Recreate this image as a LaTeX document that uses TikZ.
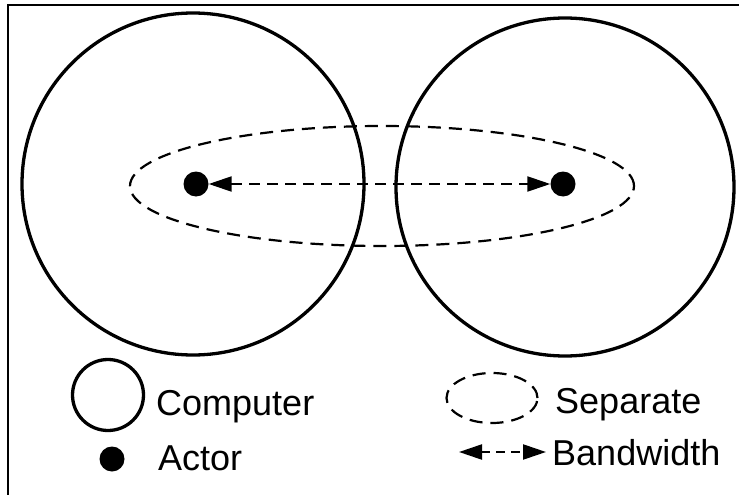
\documentclass[tikz,border=0pt]{standalone}
\usepackage{fontspec}
\setmainfont{Liberation Sans}
\usetikzlibrary{shapes.geometric,arrows.meta}

\tikzset{
  computer/.style={circle, draw, line width=3.3pt, inner sep=0pt},
  actor/.style={circle, fill, inner sep=0pt, minimum size=25pt},
  separate/.style={ellipse, draw, line width=2.2pt, dash pattern=on 13pt off 8pt, inner sep=0pt},
  bandwidth/.style={line width=2.2pt, dash pattern=on 11pt off 7pt,
    {Triangle[length=23pt,width=15pt]}-{Triangle[length=23pt,width=15pt]}},
  legendtext/.style={anchor=base west, inner sep=0pt, font=\fontsize{36}{40}\selectfont},
}

\begin{document}
\begin{tikzpicture}[x=1pt, y=-1pt]
  \useasboundingbox (0,0) rectangle (739,495);
  % frame
  \draw [line width=2.2pt] (8,495) -- (8,5) -- (739,5);

  % two computers
  \node [computer, minimum size=342pt](pcA) at (193,184) {};
  \node [computer, minimum size=338pt](pcB) at (565,187) {};

  % separate region
  \node [separate, minimum width=504pt, minimum height=120pt](sep) at (382,186) {};

  % actors
  \node [actor](actA) at (196,184) {};
  \node [actor](actB) at (563,184) {};
  \draw [bandwidth] (actA) -- (actB);

  % legend
  \node [computer, minimum size=71pt](legPC) at (108,395) {};
  \node [legendtext](txtPC) at (156,415) {Computer};
  \node [actor](legAct) at (112,459) {};
  \node [legendtext](txtAct) at (158,470) {Actor};
  \node [separate, minimum width=91pt, minimum height=50pt](legSep) at (492,398) {};
  \node [legendtext](txtSep) at (555,413) {Separate};
  \coordinate (bwL) at (459,452);
  \coordinate (bwR) at (546,452);
  \draw [bandwidth, dash pattern=on 9pt off 6pt] (bwL) -- (bwR);
  \node [legendtext](txtBw) at (552,465) {Bandwidth};
\end{tikzpicture}
\end{document}
